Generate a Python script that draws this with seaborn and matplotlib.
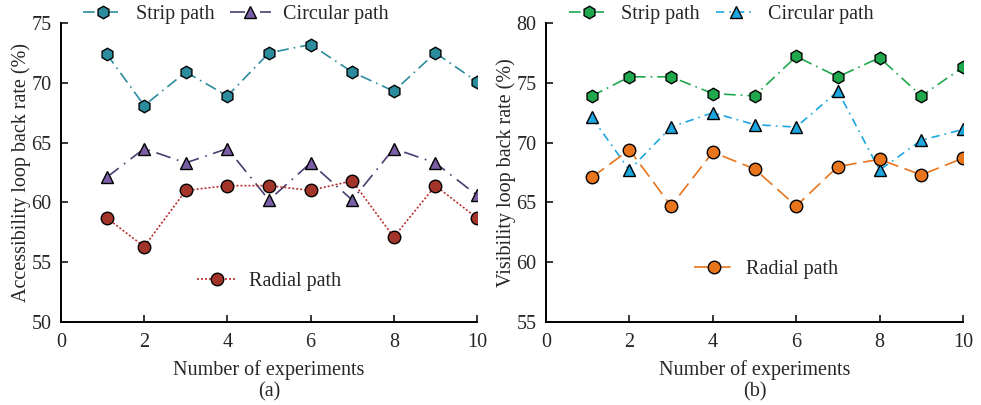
import matplotlib
matplotlib.use("Agg")
import matplotlib.pyplot as plt
import seaborn as sns
import pandas as pd

experiments = [1.1, 2, 3, 4, 5, 6, 7, 8, 9, 10]

# Panel (a): accessibility loop back rate (%)
acc_strip = [72.4, 68.1, 70.9, 68.9, 72.5, 73.2, 70.9, 69.3, 72.5, 70.1]
acc_circular = [62.1, 64.5, 63.3, 64.5, 60.2, 63.3, 60.2, 64.5, 63.3, 60.6]
acc_radial = [58.7, 56.3, 61.0, 61.4, 61.4, 61.0, 61.8, 57.1, 61.4, 58.7]

# Panel (b): visibility loop back rate (%)
vis_strip = [73.9, 75.5, 75.5, 74.1, 73.9, 77.2, 75.5, 77.1, 73.9, 76.3]
vis_circular = [72.1, 67.7, 71.3, 72.5, 71.5, 71.3, 74.3, 67.7, 70.2, 71.1]
vis_radial = [67.1, 69.4, 64.7, 69.2, 67.8, 64.7, 68.0, 68.6, 67.3, 68.7]

series_names = ["Strip path", "Circular path", "Radial path"]

sns.set_theme(style="ticks")
plt.rcParams["font.family"] = ["Liberation Serif", "DejaVu Serif"]

fig = plt.figure(figsize=(9.81, 4.05), dpi=100)
axA = fig.add_axes([61 / 981, 1 - 322 / 405, 416 / 981, 299 / 405])
axB = fig.add_axes([546 / 981, 1 - 322 / 405, 417 / 981, 299 / 405])

FS = 14.5

def draw(ax, values, styles, ylim, ylabel, caption, leg1_x, leg2_xy):
    lines = []
    for name, vals, (face, linecol, marker, ls) in zip(series_names, values, styles):
        df = pd.DataFrame({"x": experiments, "y": vals})
        sns.lineplot(data=df, x="x", y="y", ax=ax, color=linecol, marker=marker,
                     markersize=9 if marker != "^" else 8.5,
                     markerfacecolor=face, markeredgecolor="black",
                     markeredgewidth=1.0, linewidth=1.2, linestyle=ls,
                     label=name, legend=False, errorbar=None, sort=False)
        lines.append(ax.get_lines()[-1])
    ax.set_xlim(0, 10)
    ax.set_ylim(*ylim)
    ax.set_xticks(range(0, 11, 2))
    ax.set_yticks(range(ylim[0], ylim[1] + 1, 5))
    ax.tick_params(direction="in", length=5, width=1.3, labelsize=FS)
    ax.tick_params(axis="x", pad=8)
    ax.tick_params(axis="y", pad=7)
    for s in ["top", "right"]:
        ax.spines[s].set_visible(False)
    for s in ["left", "bottom"]:
        ax.spines[s].set_linewidth(1.4)
        ax.spines[s].set_color("black")
    ax.set_xlabel("Number of experiments", fontsize=FS, labelpad=6)
    ax.set_ylabel(ylabel, fontsize=FS, labelpad=0)
    ax.text(0.5, -0.2, caption, transform=ax.transAxes, ha="center",
            va="top", fontsize=FS)
    leg1 = ax.legend(handles=lines[:2], loc="center", ncol=2,
                     bbox_to_anchor=(leg1_x, 1.027), frameon=False,
                     fontsize=FS, handlelength=2.0, columnspacing=0.8,
                     handletextpad=0.6, borderaxespad=0)
    ax.add_artist(leg1)
    ax.legend(handles=lines[2:], loc="center", bbox_to_anchor=leg2_xy,
              frameon=False, fontsize=FS, handlelength=2.0,
              handletextpad=0.6, borderaxespad=0)

stylesA = [
    ("#2B8C9E", "#2B8C9E", "h", (0, (7, 3, 1, 3))),
    ("#7A5FA6", "#4A3D70", "^", (0, (9, 4, 1, 4))),
    ("#A3342A", "#B8302C", "o", (0, (1.2, 1.2))),
]
stylesB = [
    ("#1FA84C", "#1FA84C", "h", (0, (7, 3, 1, 3))),
    ("#1CA6E0", "#1CA6E0", "^", (0, (5, 3, 1, 3))),
    ("#E8741C", "#E8741C", "o", (0, (9, 4))),
]

draw(axA, [acc_strip, acc_circular, acc_radial], stylesA, (50, 75),
     "Accessibility loop back rate (%)", "(a)", 0.42, (0.5, 0.137))
draw(axB, [vis_strip, vis_circular, vis_radial], stylesB, (55, 80),
     "Visibility loop back rate (%)", "(b)", 0.42, (0.527, 0.177))

fig.savefig("out.png", dpi=100)
